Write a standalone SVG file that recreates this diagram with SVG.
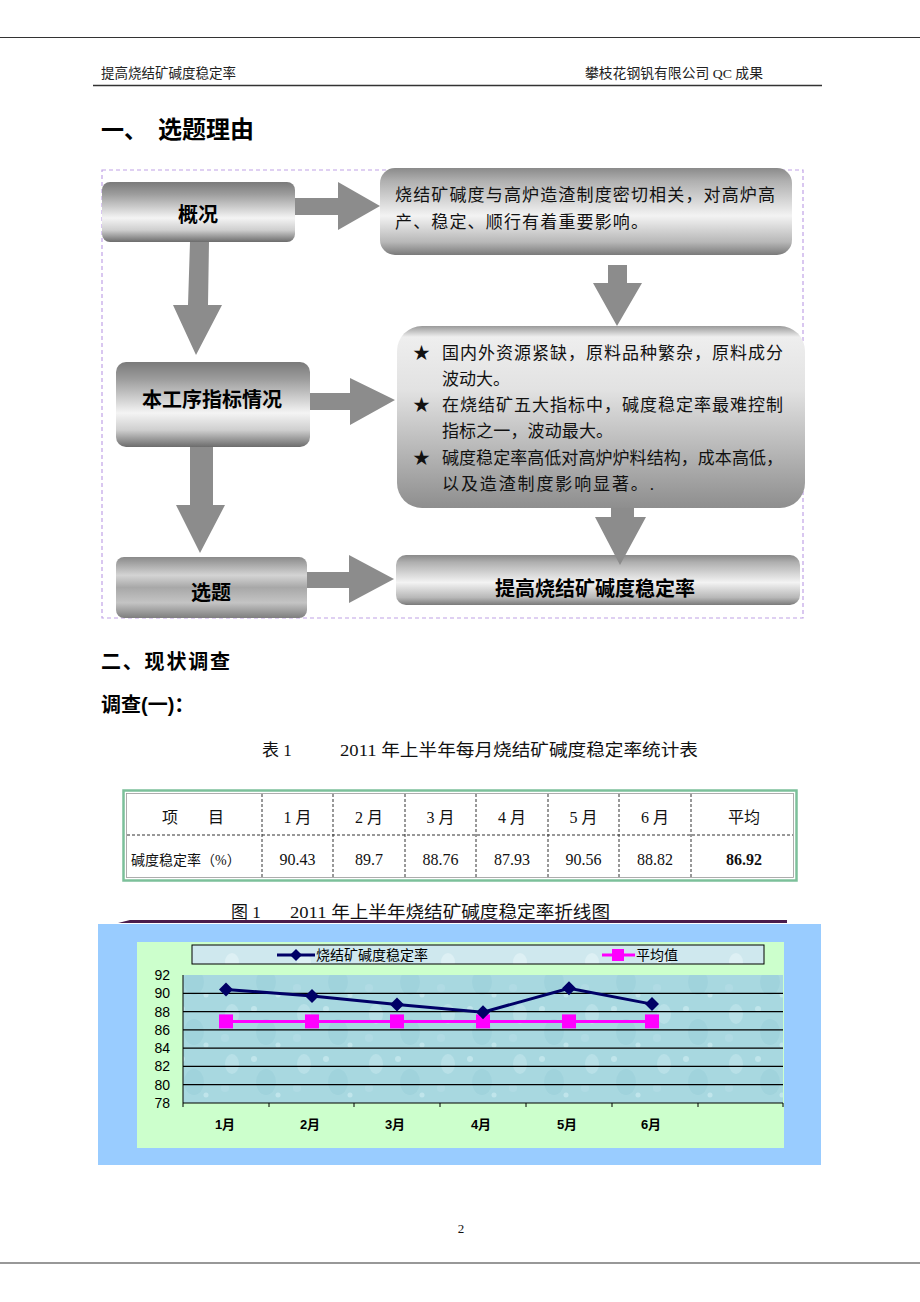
<svg xmlns="http://www.w3.org/2000/svg" width="920" height="1302" viewBox="0 0 920 1302">
<style>
.body{font-family:'Liberation Serif','Noto Sans CJK SC',serif;fill:#111}
.hd{font-family:'Liberation Serif','Noto Sans CJK SC',serif;fill:#222;font-size:13.5px}
.ttl{font-family:'Liberation Sans','Noto Sans CJK SC',sans-serif;font-weight:700;fill:#000}
.node{font-family:'Liberation Sans','Noto Sans CJK SC',sans-serif;font-weight:700;fill:#000;font-size:20px;text-anchor:middle}
.bx{font-family:'Liberation Serif','Noto Sans CJK SC',serif;fill:#111;font-size:17px}
.tb{font-family:'Liberation Serif','Noto Sans CJK SC',serif;fill:#111;font-size:16px;text-anchor:middle}
.ax{font-family:'Liberation Sans','Noto Sans CJK SC',sans-serif;fill:#000;font-size:14px}
.mo{font-family:'Liberation Sans','Noto Sans CJK SC',sans-serif;fill:#000;font-size:13px;font-weight:700;text-anchor:middle}
.arrow{fill:#8c8c8c}
.vl{stroke:#333;stroke-width:1;stroke-dasharray:3 2}
.grid{stroke:#000;stroke-width:1.2}
</style>
<defs>
<linearGradient id="cyl" x1="0" y1="0" x2="0" y2="1">
<stop offset="0" stop-color="#7a7a7a"/>
<stop offset="0.2" stop-color="#9c9c9c"/>
<stop offset="0.6" stop-color="#f4f4f4"/>
<stop offset="0.8" stop-color="#cfcfcf"/>
<stop offset="1" stop-color="#6c6c6c"/>
</linearGradient>
<linearGradient id="cyl2" x1="0" y1="0" x2="0" y2="1">
<stop offset="0" stop-color="#8a8a8a"/>
<stop offset="0.15" stop-color="#b0b0b0"/>
<stop offset="0.55" stop-color="#f3f3f3"/>
<stop offset="0.85" stop-color="#b8b8b8"/>
<stop offset="1" stop-color="#7a7a7a"/>
</linearGradient>
<linearGradient id="soft" x1="0" y1="0" x2="0" y2="1">
<stop offset="0" stop-color="#9a9a9a"/>
<stop offset="0.06" stop-color="#eeeeee"/>
<stop offset="0.35" stop-color="#e2e2e2"/>
<stop offset="1" stop-color="#8e8e8e"/>
</linearGradient>
<linearGradient id="metal" x1="0" y1="0" x2="0" y2="1">
<stop offset="0" stop-color="#8a8a8a"/>
<stop offset="0.3" stop-color="#d4d4d4"/>
<stop offset="0.5" stop-color="#a8a8a8"/>
<stop offset="0.75" stop-color="#c4c4c4"/>
<stop offset="1" stop-color="#7e7e7e"/>
</linearGradient>
<pattern id="water" width="72" height="50" patternUnits="userSpaceOnUse">
<rect width="72" height="50" fill="#a8d8e0"/>
<ellipse cx="16" cy="14" rx="7" ry="10" fill="#bfe4ea" opacity="0.7"/>
<ellipse cx="50" cy="32" rx="10" ry="13" fill="#98cdd7" opacity="0.5"/>
<circle cx="38" cy="9" r="3" fill="#c6e8ee" opacity="0.8"/>
<circle cx="62" cy="45" r="2.5" fill="#c6e8ee" opacity="0.8"/>
<circle cx="9" cy="38" r="4" fill="#b4dee6" opacity="0.7"/>
</pattern>
<pattern id="water2" width="72" height="50" patternUnits="userSpaceOnUse">
<rect width="72" height="50" fill="#cfe8ee"/>
<ellipse cx="16" cy="12" rx="7" ry="9" fill="#ddf0f4"/>
<circle cx="50" cy="30" r="6" fill="#c2e0e7"/>
</pattern>
</defs>

<!-- page frame -->
<line x1="0" y1="37.5" x2="920" y2="37.5" stroke="#333" stroke-width="1.2"/>
<text class="hd" x="101" y="78">提高烧结矿碱度稳定率</text>
<text class="hd" x="585" y="78" textLength="178" lengthAdjust="spacingAndGlyphs">攀枝花钢钒有限公司 QC 成果</text>
<line x1="93" y1="85.5" x2="822" y2="85.5" stroke="#333" stroke-width="1.5"/>
<text class="ttl" x="101" y="138" font-size="23">一、</text>
<text class="ttl" x="158" y="138" font-size="24">选题理由</text>

<!-- flowchart frame -->
<rect x="102" y="170" width="701" height="448" fill="none" stroke="#c0a2e6" stroke-width="1.2" stroke-dasharray="4 3"/>

<g id="n-gaikuang">
<rect x="102" y="182" width="193" height="60" rx="8" fill="url(#cyl)"/>
<text class="node" x="198" y="222">概况</text>
</g>
<g id="n-box1">
<rect x="380" y="168" width="412" height="87" rx="15" fill="url(#cyl2)"/>
<text class="bx" x="395" y="201" textLength="380">烧结矿碱度与高炉造渣制度密切相关，对高炉高</text>
<text class="bx" x="395" y="228" textLength="253">产、稳定、顺行有着重要影响。</text>
</g>
<g id="n-benGongxu">
<rect x="116" y="362" width="194" height="85" rx="10" fill="url(#cyl)"/>
<text class="node" x="212" y="407">本工序指标情况</text>
</g>
<g id="n-box2">
<rect x="397" y="326" width="408" height="182" rx="25" fill="url(#soft)"/>
<text class="bx" x="413" y="359">★</text>
<text class="bx" x="442" y="359" textLength="341">国内外资源紧缺，原料品种繁杂，原料成分</text>
<text class="bx" x="442" y="385">波动大。</text>
<text class="bx" x="413" y="411">★</text>
<text class="bx" x="442" y="411" textLength="341">在烧结矿五大指标中，碱度稳定率最难控制</text>
<text class="bx" x="442" y="437" textLength="171">指标之一，波动最大。</text>
<text class="bx" x="413" y="464">★</text>
<text class="bx" x="442" y="464" textLength="341">碱度稳定率高低对高炉炉料结构，成本高低，</text>
<text class="bx" x="442" y="490" textLength="212">以及造渣制度影响显著。.</text>
</g>
<g id="n-xuanti">
<rect x="116" y="557" width="191" height="61" rx="8" fill="url(#metal)"/>
<text class="node" x="211" y="600">选题</text>
</g>
<g id="n-tigao">
<rect x="396" y="555" width="404" height="50" rx="10" fill="url(#cyl2)"/>
<text class="node" x="595" y="596">提高烧结矿碱度稳定率</text>
</g>

<g id="connectors">
<polygon class="arrow" points="295,198 338,198 338,182 380,206 338,230 338,215 295,215"/>
<polygon class="arrow" points="190,242 209,242 208,305 222,305 196,355 173,305 188,305"/>
<polygon class="arrow" points="310,393 350,393 350,378 395,400 350,425 350,410 310,410"/>
<polygon class="arrow" points="608,265 627,265 627,283 642,283 617,326 593,283 608,283"/>
<polygon class="arrow" points="190,447 213,447 213,505 225,505 200,553 176,505 190,505"/>
<polygon class="arrow" points="307,572 349,572 349,555 394,579 349,603 349,588 307,588"/>
<polygon class="arrow" points="611,508 634,508 634,517 646,517 620,565 595,517 611,517"/>
</g>

<!-- section 2 -->
<text class="ttl" x="101" y="669" font-size="20" textLength="129">二、现状调查</text>
<text class="ttl" x="101" y="712" font-size="20">调查(一)：</text>
<text class="body" x="262" y="756" font-size="17">表 1</text>
<text class="body" x="340" y="756" font-size="17.5" textLength="358" lengthAdjust="spacingAndGlyphs">2011 年上半年每月烧结矿碱度稳定率统计表</text>

<g id="table">
<rect x="123.5" y="790.5" width="673" height="90" fill="#fff" stroke="#7cc09a" stroke-width="2.5"/>
<rect x="126.5" y="793.5" width="667" height="84" fill="none" stroke="#9a9a9a" stroke-width="0.8"/>
<line class="vl" x1="127" y1="835" x2="793" y2="835"/>
<line class="vl" x1="262" y1="794" x2="262" y2="877"/>
<line class="vl" x1="333" y1="794" x2="333" y2="877"/>
<line class="vl" x1="405" y1="794" x2="405" y2="877"/>
<line class="vl" x1="476" y1="794" x2="476" y2="877"/>
<line class="vl" x1="548" y1="794" x2="548" y2="877"/>
<line class="vl" x1="619" y1="794" x2="619" y2="877"/>
<line class="vl" x1="691" y1="794" x2="691" y2="877"/>
<text class="tb" x="170" y="823">项</text>
<text class="tb" x="216" y="823">目</text>
<text class="tb" x="297.5" y="823">1 月</text>
<text class="tb" x="369" y="823">2 月</text>
<text class="tb" x="440.5" y="823">3 月</text>
<text class="tb" x="512" y="823">4 月</text>
<text class="tb" x="583.5" y="823">5 月</text>
<text class="tb" x="655" y="823">6 月</text>
<text class="tb" x="744" y="823">平均</text>
<text class="body" x="131" y="865" font-size="14">碱度稳定率（%）</text>
<text class="tb" x="297.5" y="865">90.43</text>
<text class="tb" x="369" y="865">89.7</text>
<text class="tb" x="440.5" y="865">88.76</text>
<text class="tb" x="512" y="865">87.93</text>
<text class="tb" x="583.5" y="865">90.56</text>
<text class="tb" x="655" y="865">88.82</text>
<text class="tb" x="744" y="865" font-weight="700">86.92</text>
</g>

<text class="body" x="231" y="918" font-size="17">图 1</text>
<text class="body" x="290" y="918" font-size="17.5" textLength="320" lengthAdjust="spacingAndGlyphs">2011 年上半年烧结矿碱度稳定率折线图</text>
<polygon points="118,923 130,920 787,920 787,923" fill="#4b1c4b"/>

<g id="chart">
<rect x="98" y="924" width="723" height="241" fill="#99ccff"/>
<rect x="137" y="942" width="647" height="206" fill="#ccffcc"/>
<rect x="192" y="945" width="572" height="19" fill="url(#water2)" stroke="#000" stroke-width="1"/>
<line x1="277" y1="955" x2="315" y2="955" stroke="#000066" stroke-width="3"/>
<polygon points="296,949 302,955 296,961 290,955" fill="#000066"/>
<text class="ax" x="316" y="960">烧结矿碱度稳定率</text>
<line x1="602" y1="955" x2="635" y2="955" stroke="#ff00ff" stroke-width="3"/>
<rect x="612" y="949" width="12" height="12" fill="#ff00ff"/>
<text class="ax" x="636" y="960">平均值</text>

<rect x="183" y="975" width="600" height="128" fill="url(#water)"/>
<line class="grid" x1="183" y1="993.3" x2="783" y2="993.3"/>
<line class="grid" x1="183" y1="1011.6" x2="783" y2="1011.6"/>
<line class="grid" x1="183" y1="1029.9" x2="783" y2="1029.9"/>
<line class="grid" x1="183" y1="1048.1" x2="783" y2="1048.1"/>
<line class="grid" x1="183" y1="1066.4" x2="783" y2="1066.4"/>
<line class="grid" x1="183" y1="1084.7" x2="783" y2="1084.7"/>
<line x1="183" y1="975" x2="183" y2="1103" stroke="#000" stroke-width="1"/>
<line x1="183" y1="1103" x2="783" y2="1103" stroke="#000" stroke-width="1.2"/>
<g stroke="#000" stroke-width="1">
<line x1="183" y1="1103" x2="183" y2="1107"/>
<line x1="269" y1="1103" x2="269" y2="1107"/>
<line x1="354" y1="1103" x2="354" y2="1107"/>
<line x1="440" y1="1103" x2="440" y2="1107"/>
<line x1="526" y1="1103" x2="526" y2="1107"/>
<line x1="612" y1="1103" x2="612" y2="1107"/>
<line x1="698" y1="1103" x2="698" y2="1107"/>
<line x1="783" y1="1103" x2="783" y2="1107"/>
</g>
<text class="ax" x="170" y="980" text-anchor="end">92</text>
<text class="ax" x="170" y="998" text-anchor="end">90</text>
<text class="ax" x="170" y="1017" text-anchor="end">88</text>
<text class="ax" x="170" y="1035" text-anchor="end">86</text>
<text class="ax" x="170" y="1053" text-anchor="end">84</text>
<text class="ax" x="170" y="1071" text-anchor="end">82</text>
<text class="ax" x="170" y="1090" text-anchor="end">80</text>
<text class="ax" x="170" y="1108" text-anchor="end">78</text>

<polyline points="226,1021.4 312,1021.4 397,1021.4 483,1021.4 569,1021.4 652,1021.4" fill="none" stroke="#ff00ff" stroke-width="3"/>
<g fill="#ff00ff">
<rect x="219" y="1014.4" width="14" height="14"/>
<rect x="305" y="1014.4" width="14" height="14"/>
<rect x="390" y="1014.4" width="14" height="14"/>
<rect x="476" y="1014.4" width="14" height="14"/>
<rect x="562" y="1014.4" width="14" height="14"/>
<rect x="645" y="1014.4" width="14" height="14"/>
</g>
<polyline points="226,989.4 312,996 397,1004.6 483,1012.2 569,988.2 652,1004.1" fill="none" stroke="#000066" stroke-width="3"/>
<g fill="#000066">
<polygon points="226,982.4 233,989.4 226,996.4 219,989.4"/>
<polygon points="312,989 319,996 312,1003 305,996"/>
<polygon points="397,997.6 404,1004.6 397,1011.6 390,1004.6"/>
<polygon points="483,1005.2 490,1012.2 483,1019.2 476,1012.2"/>
<polygon points="569,981.2 576,988.2 569,995.2 562,988.2"/>
<polygon points="652,997.1 659,1004.1 652,1011.1 645,1004.1"/>
</g>
<text class="mo" x="225" y="1129">1月</text>
<text class="mo" x="310" y="1129">2月</text>
<text class="mo" x="395" y="1129">3月</text>
<text class="mo" x="481" y="1129">4月</text>
<text class="mo" x="567" y="1129">5月</text>
<text class="mo" x="651" y="1129">6月</text>
</g>

<text class="body" x="461" y="1233" font-size="13" text-anchor="middle">2</text>
<line x1="0" y1="1263" x2="920" y2="1263" stroke="#333" stroke-width="1.2"/>
</svg>
